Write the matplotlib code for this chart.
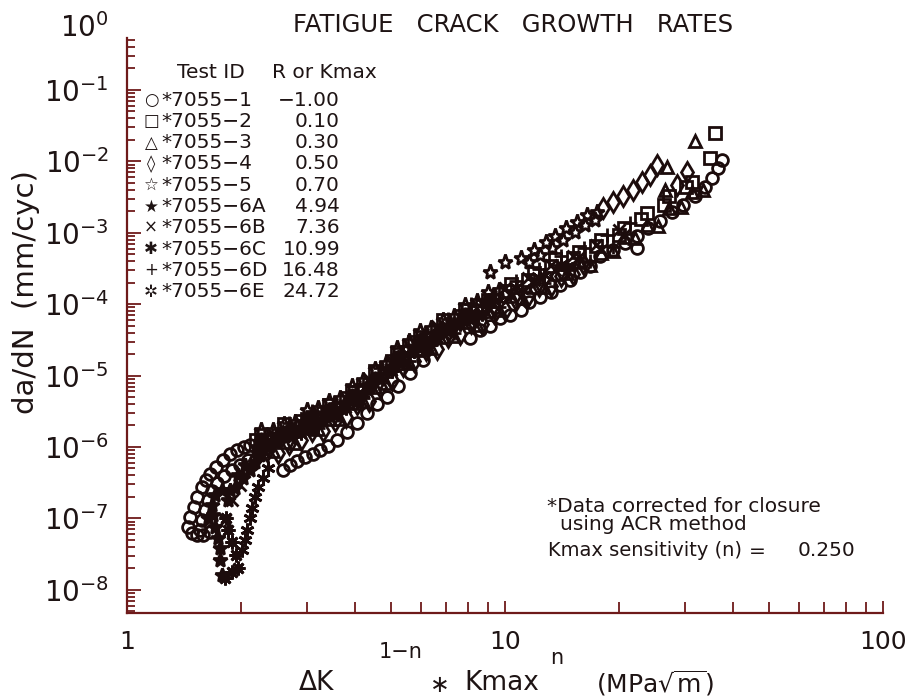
import matplotlib.pyplot as plt
from matplotlib.ticker import NullFormatter, FixedLocator, LogLocator

# Fatigue crack growth rates, 7055 tests

# --- 7055-1 (R = -1.00), circles
dk_1 = [1.45, 1.47, 1.50, 1.53, 1.58, 1.62, 1.66, 1.72, 1.80, 1.87, 1.95, 2.04, 2.11, 2.25,
        2.39, 2.54, 2.70, 2.87, 3.05, 3.24, 3.44,
        1.49, 1.53, 1.59, 1.66,
        1.56, 1.58, 1.61, 1.64, 1.68, 1.73, 1.81, 1.90, 1.99, 2.09,
        2.59, 2.70, 2.82, 2.96, 3.10, 3.24, 3.40, 3.59, 3.82, 4.06, 4.31, 4.58, 4.87, 5.21,
        5.61, 6.07,
        8.08, 9.70, 11.6, 14.0, 15.8, 17.8, 19.3, 20.8, 22.4, 23.9, 25.7, 27.7, 29.6, 31.8,
        33.8, 35.3, 36.6, 37.5, 22.4,
        8.59, 9.12, 10.3, 11.0, 12.4, 13.2, 14.9, 16.8]
dadn_1 = [7.6e-8, 1.05e-7, 1.45e-7, 2.0e-7, 2.75e-7, 3.5e-7, 4.2e-7, 5.2e-7, 6.6e-7, 8.0e-7,
          9.1e-7, 1.0e-6, 1.07e-6, 1.17e-6, 1.35e-6, 1.48e-6, 1.74e-6, 1.95e-6, 2.24e-6,
          2.57e-6, 3.0e-6,
          6.3e-8, 5.9e-8, 5.9e-8, 6.5e-8,
          6.9e-8, 9.5e-8, 1.32e-7, 1.82e-7, 2.4e-7, 3.16e-7, 3.9e-7, 4.8e-7, 5.6e-7, 6.6e-7,
          4.8e-7, 5.6e-7, 6.3e-7, 7.2e-7, 8.0e-7, 9.1e-7, 1.03e-6, 1.26e-6, 1.62e-6, 2.2e-6,
          3.0e-6, 4.0e-6, 5.0e-6, 7.1e-6, 1.1e-5, 1.66e-5,
          3.4e-5, 6.5e-5, 1.07e-4, 1.86e-4, 2.8e-4, 4.8e-4, 5.8e-4, 7.2e-4, 9.1e-4, 1.17e-3,
          1.48e-3, 1.95e-3, 2.45e-3, 3.3e-3, 4.4e-3, 5.9e-3, 8.1e-3, 1.05e-2, 6.2e-4,
          4.37e-5, 4.9e-5, 7.08e-5, 8.32e-5, 1.26e-4, 1.48e-4, 2.19e-4, 3.39e-4]

# --- 7055-2 (R = 0.10), squares
dk_2 = [2.19, 2.51, 2.88, 3.31, 3.80, 4.37, 5.01, 5.75, 6.61, 7.59, 8.71, 10.0, 11.5, 13.2,
        15.1, 17.4, 20.0, 22.9, 26.3, 30.2, 34.9, 36.0,
        2.26, 2.60, 2.99, 3.43, 3.94, 4.52, 5.19, 5.96, 6.84, 7.85, 9.02, 10.35, 11.9, 13.6,
        15.7, 18.0, 20.7, 23.7, 27.2, 31.3]
dadn_2 = [1.26e-6, 1.48e-6, 2.29e-6, 2.95e-6, 4.79e-6, 7.59e-6, 1.58e-5, 2.95e-5, 4.17e-5,
          6.76e-5, 9.33e-5, 1.55e-4, 2.19e-4, 3.47e-4, 4.47e-4, 6.46e-4, 9.33e-4, 1.58e-3,
          2.45e-3, 4.37e-3, 1.12e-2, 2.5e-2,
          1.45e-6, 2.07e-6, 2.48e-6, 3.89e-6, 5.89e-6, 1.15e-5, 2.0e-5, 3.47e-5, 5.96e-5,
          8.22e-5, 1.16e-4, 1.91e-4, 2.72e-4, 4.27e-4, 5.43e-4, 8.04e-4, 1.16e-3, 1.91e-3,
          3.24e-3, 5.19e-3]

# --- 7055-3 (R = 0.30), triangles
dk_3 = [2.26, 2.60, 2.99, 3.43, 3.94, 4.52, 5.19, 5.96, 6.84, 7.85, 9.02, 10.35, 11.9, 13.6,
        15.7, 18.0, 20.7, 23.7, 27.2, 31.3, 26.5, 26.8, 31.8,
        2.43, 2.79, 3.20, 3.67, 4.22, 4.84, 5.56, 6.38, 7.33, 8.41, 9.66, 11.1, 12.7, 14.6,
        16.8, 19.3, 22.1, 25.4, 29.2, 33.5]
dadn_3 = [9.8e-7, 1.19e-6, 1.84e-6, 2.45e-6, 4.07e-6, 6.92e-6, 1.48e-5, 2.29e-5, 3.43e-5,
          5.69e-5, 8.04e-5, 1.29e-4, 1.76e-4, 2.69e-4, 3.85e-4, 5.19e-4, 8.61e-4, 1.29e-3,
          2.24e-3, 3.67e-3, 4.0e-3, 8.3e-3, 1.9e-2,
          8.91e-7, 1.14e-6, 1.78e-6, 2.45e-6, 4.42e-6, 7.76e-6, 1.48e-5, 2.45e-5, 3.63e-5,
          5.13e-5, 8.41e-5, 1.22e-4, 1.74e-4, 2.72e-4, 3.51e-4, 5.50e-4, 8.32e-4, 1.24e-3,
          2.29e-3, 4.03e-3]

# --- 7055-4 (R = 0.50), diamonds
dk_4 = [2.34, 2.69, 3.09, 3.55, 4.07, 4.68, 5.37, 6.17, 7.08, 8.13, 9.33, 10.7, 12.3, 14.1,
        16.2, 18.2, 19.3, 20.5, 21.8, 23.0, 24.2, 25.2, 28.5, 30.3,
        2.19, 2.51, 2.88, 3.31, 3.80, 4.37, 5.01, 5.75, 6.61, 7.59, 8.71, 10.0, 11.5, 13.2,
        15.1]
dadn_4 = [8.7e-7, 1.10e-6, 1.70e-6, 2.29e-6, 3.98e-6, 6.92e-6, 1.38e-5, 2.29e-5, 3.47e-5,
          5.37e-5, 7.41e-5, 1.15e-4, 1.82e-4, 2.45e-4, 3.55e-4, 2.24e-3, 2.69e-3, 3.31e-3,
          3.98e-3, 5.13e-3, 6.46e-3, 8.91e-3, 4.68e-3, 7.08e-3,
          6.92e-7, 8.32e-7, 1.26e-6, 1.66e-6, 2.63e-6, 4.37e-6, 8.71e-6, 1.58e-5, 2.34e-5,
          3.80e-5, 5.25e-5, 8.32e-5, 1.29e-4, 1.78e-4, 2.63e-4]

# --- 7055-5 (R = 0.70), open stars
dk_5 = [2.43, 2.79, 3.20, 3.67, 4.22, 4.84, 5.56, 6.38, 7.33, 8.41, 9.66,
        9.12, 10.0, 11.0, 11.9, 12.8, 13.6, 14.5, 15.5, 16.5, 17.5,
        2.26, 2.60, 2.99, 3.43, 3.94, 4.52, 5.19, 5.96, 6.84, 7.85, 9.02,
        11.6, 12.4, 13.3, 14.2, 15.3, 16.3, 17.3]
dadn_5 = [1.74e-6, 2.21e-6, 3.55e-6, 4.79e-6, 8.61e-6, 1.51e-5, 3.02e-5, 4.57e-5, 6.76e-5,
          1.10e-4, 1.57e-4,
          2.82e-4, 3.89e-4, 4.47e-4, 5.75e-4, 7.41e-4, 9.12e-4, 1.17e-3, 1.41e-3, 1.78e-3,
          1.95e-3,
          1.74e-6, 2.11e-6, 3.27e-6, 4.37e-6, 7.24e-6, 1.23e-5, 2.45e-5, 4.27e-5, 6.10e-5,
          9.66e-5, 1.50e-4,
          3.89e-4, 4.9e-4, 6.2e-4, 7.9e-4, 1.02e-3, 1.29e-3, 1.51e-3]

# --- 7055-6A (Kmax = 4.94), filled stars
dk_6a = [1.69, 1.71, 1.74, 1.76, 1.76, 1.78, 1.87, 1.97, 2.05,
         2.19, 2.51, 2.88, 3.31, 3.80, 4.37, 5.01, 5.75, 6.61, 7.59,
         2.34, 2.69, 3.09, 3.55, 4.07, 4.68, 5.37, 6.17, 7.08, 8.13,
         1.64, 1.68, 1.71, 1.78, 1.85, 1.93, 2.03, 2.11, 2.18, 2.25]
dadn_6a = [1.12e-7, 7.6e-8, 5.4e-8, 3.9e-8, 2.6e-8, 1.62e-8, 2.5e-7, 4.07e-7, 5.6e-7,
           1.0e-6, 1.41e-6, 1.82e-6, 2.40e-6, 4.07e-6, 6.92e-6, 1.26e-5, 2.45e-5, 3.63e-5,
           5.89e-5,
           1.0e-6, 1.48e-6, 1.78e-6, 2.82e-6, 4.37e-6, 8.91e-6, 1.58e-5, 2.34e-5, 4.27e-5,
           6.17e-5,
           1.02e-7, 1.55e-7, 2.14e-7, 2.51e-7, 1.82e-7, 2.69e-7, 3.72e-7, 4.79e-7, 6.17e-7,
           7.76e-7]

# --- 7055-6B (Kmax = 7.36), crosses
dk_6b = [1.82, 1.90, 1.99,
         2.60, 2.99, 3.43, 3.94, 4.52, 5.19, 5.96, 6.84, 7.85, 9.02, 10.35, 11.9, 13.6, 15.7,
         18.0, 20.7,
         2.51, 2.88, 3.31, 3.80, 4.37, 5.01, 5.75, 6.61, 7.59, 8.71, 10.0, 11.5, 13.2, 15.1,
         17.4, 20.0]
dadn_6b = [9.5e-8, 1.82e-7, 2.95e-7,
           1.43e-6, 2.16e-6, 2.69e-6, 4.68e-6, 7.59e-6, 1.58e-5, 2.75e-5, 3.94e-5, 6.53e-5,
           9.23e-5, 1.29e-4, 2.16e-4, 3.02e-4, 4.52e-4, 5.69e-4, 9.44e-4,
           1.66e-6, 2.14e-6, 3.39e-6, 4.79e-6, 8.91e-6, 1.58e-5, 2.88e-5, 4.90e-5, 6.61e-5,
           1.05e-4, 1.66e-4, 2.29e-4, 3.55e-4, 4.68e-4, 6.76e-4, 1.10e-3]

# --- 7055-6C (Kmax = 10.99), asterisks
dk_6c = [2.01, 2.05, 2.08, 2.11, 2.14, 2.18, 2.22, 2.29, 2.36,
         2.34, 2.69, 3.09, 3.55, 4.07, 4.68, 5.37, 6.17, 7.08, 8.13, 9.33, 10.7, 12.3, 14.1,
         2.43, 2.79, 3.20, 3.67, 4.22, 4.84, 5.56, 6.38, 7.33, 8.41, 9.66, 11.1, 12.7, 14.6]
dadn_6c = [3.6e-8, 5.0e-8, 6.9e-8, 1.02e-7, 1.41e-7, 2.0e-7, 2.75e-7, 3.7e-7, 5.1e-7,
           1.26e-6, 1.55e-6, 2.45e-6, 3.24e-6, 5.75e-6, 9.77e-6, 2.0e-5, 3.39e-5, 4.90e-5,
           7.76e-5, 1.10e-4, 1.74e-4, 2.40e-4, 3.63e-4,
           1.17e-6, 1.72e-6, 2.14e-6, 3.47e-6, 5.56e-6, 1.17e-5, 2.0e-5, 2.95e-5, 5.25e-5,
           7.24e-5, 1.14e-4, 1.57e-4, 2.57e-4, 3.43e-4]

# --- 7055-6D (Kmax = 16.48), plus signs
dk_6d = [2.79, 3.20, 3.67, 4.22, 4.84, 5.56, 6.38, 7.33, 8.41, 9.66, 11.1, 12.7, 14.6, 16.8,
         19.3,
         2.69, 3.09, 3.55, 4.07, 4.68, 5.37, 6.17, 7.08, 8.13, 9.33, 10.7, 12.3, 14.1, 16.2,
         18.6, 21.4]
dadn_6d = [1.40e-6, 1.82e-6, 3.02e-6, 4.84e-6, 9.55e-6, 1.62e-5, 2.69e-5, 3.89e-5, 6.46e-5,
           9.23e-5, 1.46e-4, 2.0e-4, 2.99e-4, 4.03e-4, 6.31e-4,
           2.14e-6, 3.16e-6, 4.07e-6, 7.24e-6, 1.29e-5, 2.63e-5, 3.98e-5, 6.17e-5, 1.02e-4,
           1.38e-4, 2.14e-4, 3.16e-4, 4.79e-4, 6.03e-4, 9.33e-4, 1.38e-3]

# --- 7055-6E (Kmax = 24.72), open asterisks
dk_6e = [1.82, 1.90, 1.97, 1.94, 1.90, 1.85, 1.83,
         2.51, 2.88, 3.31, 3.80, 4.37, 5.01, 5.75, 6.61, 7.59, 8.71,
         2.26, 2.60, 2.99, 3.43, 3.94, 4.52, 5.19, 5.96, 6.84, 7.85, 9.02]
dadn_6e = [1.48e-8, 1.78e-8, 2.04e-8, 3.1e-8, 4.7e-8, 6.9e-8, 1.02e-7,
           1.23e-6, 1.58e-6, 2.57e-6, 3.55e-6, 6.61e-6, 1.17e-5, 2.24e-5, 3.31e-5, 5.25e-5,
           7.24e-5,
           1.26e-6, 1.53e-6, 2.37e-6, 3.16e-6, 5.25e-6, 8.91e-6, 1.78e-5, 3.16e-5, 4.42e-5,
           7.16e-5, 1.04e-4]

test_ids = ['7055−1', '7055−2', '7055−3', '7055−4', '7055−5',
            '7055−6A', '7055−6B', '7055−6C', '7055−6D', '7055−6E']
r_or_kmax = ['−1.00', '0.10', '0.30', '0.50', '0.70', '4.94', '7.36', '10.99', '16.48', '24.72']
legend_glyphs = ['○', '□', '△', '◊', '☆', '★', '×', '✱', '+', '✲']

y_decades = [-8, -7, -6, -5, -4, -3, -2, -1]

ink = '#1c0c0c'
axis_col = '#6e1a1a'
text_col = '#1e1414'

series = [
    (dk_1, dadn_1, dict(marker='o', mfc='none', ms=8.5)),
    (dk_2, dadn_2, dict(marker='s', mfc='none', ms=8.5)),
    (dk_3, dadn_3, dict(marker='^', mfc='none', ms=9)),
    (dk_4, dadn_4, dict(marker='d', mfc='none', ms=10)),
    (dk_5, dadn_5, dict(marker='*', mfc='none', ms=11)),
    (dk_6a, dadn_6a, dict(marker='*', mfc=ink, ms=10)),
    (dk_6b, dadn_6b, dict(marker='x', ms=8)),
    (dk_6c, dadn_6c, dict(marker=(6, 2, 0), ms=10)),
    (dk_6d, dadn_6d, dict(marker='+', ms=10)),
    (dk_6e, dadn_6e, dict(marker=(8, 2, 0), ms=10)),
]

W, H = 920, 700


def fx(px):
    return px / W


def fy(py):
    return 1 - py / H


fig = plt.figure(figsize=(9.2, 7), dpi=100)
ax = fig.add_axes([fx(127), fy(613), (883 - 127) / W, (613 - 38) / H])

for x, y, kw in series:
    ax.plot(x, y, linestyle='none', mec=ink, color=ink, mew=2.0, **kw)

ax.set_xscale('log')
ax.set_yscale('log')
ax.set_xlim(1, 100)
ax.set_ylim(10 ** -8.325, 10 ** -0.272)

for side in ['top', 'right']:
    ax.spines[side].set_visible(False)
for side in ['left', 'bottom']:
    ax.spines[side].set_color(axis_col)
    ax.spines[side].set_linewidth(1.6)

# ticks: inward, red-brown like the plotter pen
ax.set_xticks([1, 10, 100])
ax.set_xticklabels(['1', '10', '100'])
ax.xaxis.set_minor_locator(LogLocator(base=10, subs=range(2, 10)))
ax.xaxis.set_minor_formatter(NullFormatter())
ax.yaxis.set_major_locator(FixedLocator([10.0 ** d for d in y_decades]))
ax.set_yticklabels([r'$10^{%d}$' % d for d in y_decades])
ax.yaxis.set_minor_locator(LogLocator(base=10, subs=range(2, 10), numticks=20))
ax.yaxis.set_minor_formatter(NullFormatter())

ax.tick_params(axis='both', which='both', direction='in', color=axis_col, width=1.3,
               labelcolor=text_col)
ax.tick_params(axis='y', which='major', length=10, pad=13, labelsize=20)
ax.tick_params(axis='y', which='minor', length=6)
ax.tick_params(axis='x', which='major', length=9, pad=12, labelsize=18)
ax.tick_params(axis='x', which='minor', length=8)

# 10^0 sits above the end of the axis line in the original
fig.text(fx(109), fy(28), r'$10^{0}$', ha='right', va='center', fontsize=20,
         color=text_col)

# titles and axis labels
fig.text(fx(513), fy(25), 'FATIGUE   CRACK   GROWTH   RATES', ha='center', va='center',
         fontsize=17.5, color=text_col)
fig.text(fx(26), fy(292), 'da/dN  (mm/cyc)', rotation=90, ha='center', va='center',
         fontsize=21, color=text_col)
fig.text(fx(316), fy(683), 'ΔK', ha='center', va='center', fontsize=19, color=text_col)
fig.text(fx(401), fy(652), '1−n', ha='center', va='center', fontsize=15, color=text_col)
fig.text(fx(440), fy(685), '∗', ha='center', va='center', fontsize=17, color=text_col)
fig.text(fx(502), fy(683), 'Kmax', ha='center', va='center', fontsize=19, color=text_col)
fig.text(fx(557), fy(658), 'n', ha='center', va='center', fontsize=15, color=text_col)
fig.text(fx(655), fy(683), r'(MPa$\sqrt{\mathrm{m}}$)', ha='center', va='center',
         fontsize=18, color=text_col)

# legend table
fig.text(fx(177), fy(73), 'Test ID', ha='left', va='center', fontsize=14.5, color=text_col)
fig.text(fx(272), fy(73), 'R or Kmax', ha='left', va='center', fontsize=14.5,
         color=text_col)
for i, (g, tid, val) in enumerate(zip(legend_glyphs, test_ids, r_or_kmax)):
    yy = fy(100 + 21.3 * i)
    fig.text(fx(151), yy, g, ha='center', va='center', fontsize=12, color=text_col)
    fig.text(fx(161), yy, '*' + tid, ha='left', va='center', fontsize=14.5, color=text_col)
    fig.text(fx(340), yy, val, ha='right', va='center', fontsize=14.5, color=text_col)

# closure note
fig.text(fx(547), fy(507), '*Data corrected for closure', ha='left', va='center',
         fontsize=14.5, color=text_col)
fig.text(fx(560), fy(525), 'using ACR method', ha='left', va='center', fontsize=14.5,
         color=text_col)
fig.text(fx(548), fy(551), 'Kmax sensitivity (n)', ha='left', va='center', fontsize=14,
         color=text_col)
fig.text(fx(757), fy(551), '=', ha='center', va='center', fontsize=14.5, color=text_col)
fig.text(fx(855), fy(551), '0.250', ha='right', va='center', fontsize=14.5,
         color=text_col)

fig.savefig('out.png', dpi=100)
